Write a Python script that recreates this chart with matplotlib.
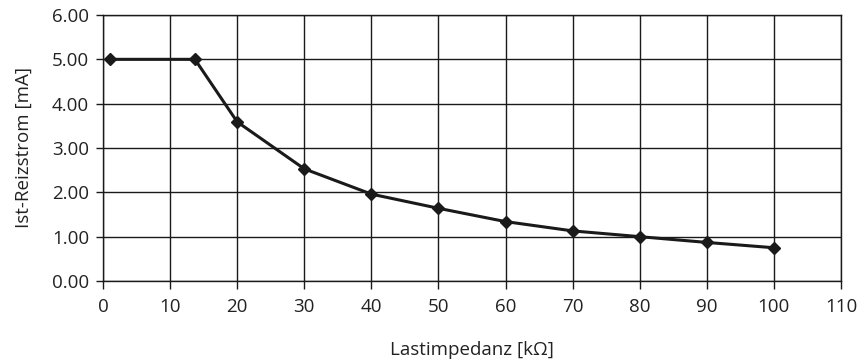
import matplotlib
matplotlib.use("Agg")
import matplotlib.pyplot as plt

x_kohm = [1, 13.7, 20, 30, 40, 50, 60, 70, 80, 90, 100]
i_ma = [5.00, 5.00, 3.59, 2.53, 1.96, 1.64, 1.34, 1.13, 1.00, 0.87, 0.75]
x_ticks = list(range(0, 111, 10))
y_ticks = [0, 1, 2, 3, 4, 5, 6]

plt.rcParams['font.family'] = ['Open Sans', 'DejaVu Sans']

fig = plt.figure(figsize=(8.64, 3.64), dpi=100)
ax = fig.add_axes([103/864, 1-281/364, (841-103)/864, (281-15)/364])

ax.plot(x_kohm, i_ma, color='#1a1a1a', lw=2.2, marker='D', ms=6.5, zorder=3, clip_on=False)

ax.set_xlim(0, 110)
ax.set_ylim(0, 6)
ax.set_xticks(x_ticks)
ax.set_xticklabels([str(v) for v in x_ticks])
ax.set_yticks(y_ticks)
ax.set_yticklabels([f"{v:.2f}" for v in y_ticks])
ax.grid(True, color='#1a1a1a', lw=1.0)
ax.set_axisbelow(True)
for s in ax.spines.values():
    s.set_color('#1a1a1a')
    s.set_linewidth(1.0)
ax.tick_params(axis='y', direction='out', length=5, width=1.0, color='#1a1a1a', labelsize=13.5, pad=5, labelcolor='#222222')
ax.tick_params(axis='x', direction='out', length=6, width=1.0, color='#1a1a1a', labelsize=13.5, pad=6, labelcolor='#222222')

ax.set_xlabel('Lastimpedanz [kΩ]', fontsize=13.5, color='#222222', labelpad=18)
ax.set_ylabel('Ist-Reizstrom [mA]', fontsize=13.5, color='#222222', labelpad=14)

fig.savefig('out.png', dpi=100)
